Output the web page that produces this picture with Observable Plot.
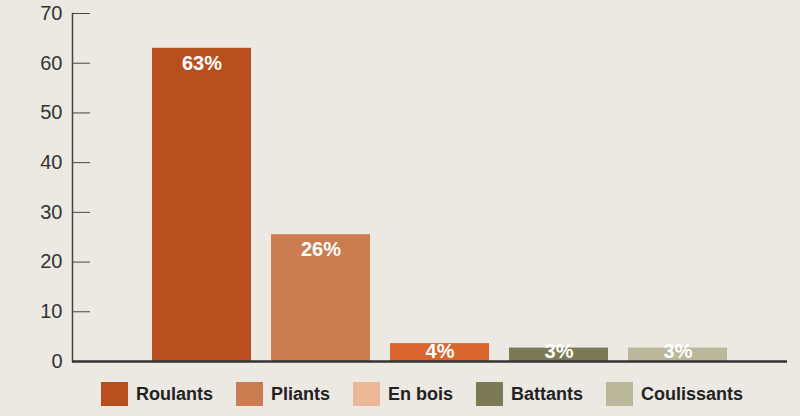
<!DOCTYPE html>
<html>
<head>
<meta charset="utf-8">
<script src="https://cdn.jsdelivr.net/npm/d3@7"></script>
<script src="https://cdn.jsdelivr.net/npm/@observablehq/plot@0.6"></script>
<style>
  html, body { margin: 0; padding: 0; background: #ebe9e2; }
  #chart svg { background: #ebe9e2; display: block; }
  #legend { display: flex; align-items: center; padding-left: 101px; margin-top: 0px; height: 26px;
    font-family: "Liberation Sans", Arial, sans-serif; font-weight: bold; font-size: 18px; color: #222; }
  #legend .item { display: flex; align-items: center; margin-right: 23px; }
  #legend .sw { width: 27px; height: 24px; margin-right: 8px; }
</style>
</head>
<body>
<div id="chart"></div>
<div id="legend"></div>
<script>
const categories = ["Roulants", "Pliants", "En bois", "Battants", "Coulissants"];
const values = [63, 25.5, 3.6, 2.7, 2.7];
const labels = ["63%", "26%", "4%", "3%", "3%"];
const barColors = ["#b84d1e", "#cc7d50", "#d9662f", "#7b7a55", "#bab79a"];
const legendColors = ["#b84d1e", "#cc7d50", "#ebb797", "#7b7a55", "#bab79a"];
const yTicks = [0, 10, 20, 30, 40, 50, 60, 70];

const data = categories.map((c, i) => ({category: c, value: values[i], label: labels[i], color: barColors[i]}));

const chart = Plot.plot({
  width: 800,
  height: 381,
  marginTop: 13,
  marginBottom: 20,
  marginLeft: 72,
  marginRight: 13,
  style: {background: "#ebe9e2", fontFamily: "Liberation Sans, Arial, sans-serif"},
  x: {domain: categories, paddingInner: 0.1715, paddingOuter: 0, insetLeft: 79, insetRight: 59, axis: null},
  y: {domain: [0, 70]},
  marks: [
    Plot.barY(data, {x: "category", y: "value", fill: "color"}),
    Plot.text(data, {x: "category", y: d => Math.max(d.value, 5), text: "label", dy: 15, fill: "white", fontWeight: "bold", fontSize: 20}),
    Plot.axisY({ticks: yTicks, tickSize: 0, tickPadding: 10, fontSize: 20, color: "#333", label: null}),
    Plot.axisY({ticks: yTicks, tickSize: 18, dx: 18, tickFormat: () => "", stroke: "#444", label: null}),
    Plot.frame({anchor: "left", stroke: "#444", strokeWidth: 1.5}),
    Plot.ruleY([0], {stroke: "#333", strokeWidth: 2.5})
  ]
});
document.getElementById("chart").appendChild(chart);

const legend = document.getElementById("legend");
categories.forEach((c, i) => {
  const item = document.createElement("div");
  item.className = "item";
  const sw = document.createElement("div");
  sw.className = "sw";
  sw.style.background = legendColors[i];
  const t = document.createElement("span");
  t.textContent = c;
  item.appendChild(sw);
  item.appendChild(t);
  legend.appendChild(item);
});
</script>
</body>
</html>
